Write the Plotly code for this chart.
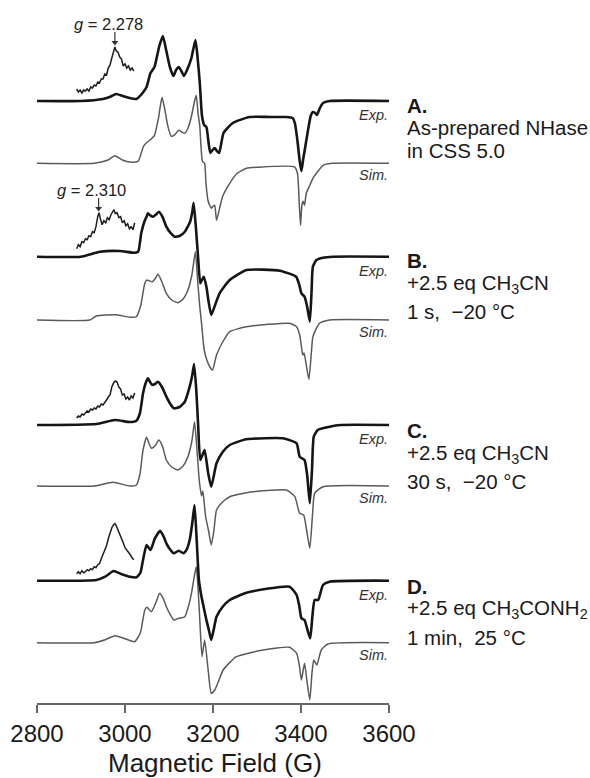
import plotly.graph_objects as go

# ---------------- data (field in G, intensity relative to each trace baseline) -------------
A_exp_field = [2800, 2900, 2950, 2965, 2980, 2995, 3010, 3026, 3040, 3049, 3058, 3067, 3078, 3086, 3094, 3102, 3110, 3116, 3122, 3128, 3134, 3142, 3151, 3160, 3164, 3170, 3175, 3180, 3185, 3190, 3194, 3199, 3204, 3209, 3214, 3224, 3245, 3283, 3330, 3367, 3381, 3386, 3392, 3397, 3401, 3405, 3410, 3416, 3422, 3427, 3432, 3436, 3443, 3450, 3465, 3600]
A_exp_vals = [0, 0, 2, 4, 7, 5, 3, 2, 8, 14, 28, 34, 55, 65, 50, 34, 25, 31, 34, 30, 25, 32, 43, 61, 48, 18, -15, -24, -26, -42, -52, -49, -47, -50, -52, -32, -22, -16, -16, -16, -17, -22, -40, -60, -70, -58, -45, -29, -15, -11, -12, -14, -7, -2, 0, 0]

A_sim_field = [2800, 2930, 2960, 2977, 2995, 3017, 3030, 3042, 3050, 3056, 3067, 3076, 3084, 3090, 3097, 3105, 3114, 3122, 3130, 3136, 3144, 3151, 3158, 3162, 3166, 3170, 3173, 3176, 3181, 3184, 3189, 3196, 3200, 3204, 3208, 3215, 3222, 3238, 3255, 3276, 3300, 3385, 3392, 3396, 3399, 3402, 3405, 3408, 3412, 3419, 3427, 3435, 3450, 3470, 3600]
A_sim_vals = [0, 0, 3, 7.6, 3, 1, 2, 17, 21, 23, 28, 45, 66, 55, 38, 27, 29, 33, 31, 30, 36, 47, 62, 68, 50, 37, 15, 2, 0, -20, -38, -45, -43, -42, -57, -45, -33, -20, -10, -5, -4, -3.5, -10, -40, -62, -42, -38, -42, -30, -23, -15, -10, -2, 0, 0]

B_exp_field = [2800, 2900, 2943, 2988, 3022, 3030, 3037, 3044, 3049, 3052, 3058, 3064, 3070, 3077, 3085, 3094, 3103, 3113, 3125, 3136, 3148, 3153, 3156, 3161, 3166, 3171, 3175, 3179, 3185, 3190, 3196, 3205, 3215, 3238, 3276, 3352, 3389, 3396, 3401, 3408, 3414, 3420, 3424, 3427, 3435, 3450, 3473, 3600]
B_exp_vals = [0, 0, 5, 5.7, 4, 5, 23.7, 35, 40, 43.4, 41, 40, 42, 45, 40, 30, 24, 20, 21, 25, 35, 45, 54, 30, 0, -26.6, -23, -20, -30, -45, -58.3, -48, -36.6, -23.3, -13.3, -14, -20, -28, -36.6, -40, -50, -65, -35, -10, -3.3, -1, 0, 0]

B_sim_field = [2800, 2920, 2935, 2980, 3011, 3026, 3036, 3045, 3050, 3056, 3062, 3068, 3075, 3084, 3094, 3106, 3120, 3132, 3143, 3152, 3160, 3165, 3170, 3174, 3180, 3186, 3193, 3199, 3208, 3222, 3238, 3276, 3374, 3390, 3397, 3401, 3404, 3407, 3412, 3418, 3424, 3427, 3442, 3465, 3600]
B_sim_vals = [0, 0, 4, 5.3, 2.7, 3.3, 15, 36.7, 40, 39, 38.3, 41, 45.7, 38, 26.7, 20, 17.3, 21, 30, 45, 68.3, 40, 13.3, -3.3, -30, -40, -47, -50, -35, -22, -11.7, -6.7, -3.3, -6.7, -15, -26.7, -35, -33, -45, -59.3, -30, -16.7, -3.3, 0, 0]

C_exp_field = [2800, 2935, 2977, 3011, 3026, 3034, 3041, 3047, 3052, 3057, 3062, 3068, 3075, 3084, 3094, 3103, 3111, 3124, 3136, 3147, 3153, 3157, 3162, 3166, 3171, 3176, 3181, 3189, 3196, 3208, 3222, 3238, 3276, 3359, 3390, 3397, 3408, 3414, 3420, 3425, 3429, 3438, 3465, 3490, 3600]
C_exp_vals = [0, 1, 5, 3, 4.3, 12, 31.7, 42, 46.7, 43, 40, 41, 43.3, 38, 28.3, 21, 16.7, 18, 23.3, 38.3, 50, 61, 35, 1.7, -35, -30, -25, -48, -61.7, -38.3, -27, -20, -14.3, -13.3, -18.3, -31.7, -35, -50, -78.3, -45, -11.7, -5, -1.7, 0, 0]

C_sim_field = [2800, 2930, 2973, 3011, 3026, 3034, 3041, 3049, 3055, 3060, 3068, 3077, 3085, 3094, 3106, 3120, 3132, 3143, 3152, 3158, 3163, 3168, 3171, 3174, 3177, 3183, 3190, 3196, 3202, 3208, 3222, 3238, 3276, 3367, 3386, 3397, 3406, 3413, 3420, 3426, 3431, 3450, 3600]
C_sim_vals = [0, 0, 3.7, 0, 1, 12, 36, 48.7, 42, 37.7, 40, 46, 40, 26, 19, 16, 20, 29.3, 45, 64.3, 40, 9.3, -2.3, -10, -5, -30, -45, -59, -45, -24, -16, -10.7, -6.7, -4, -10.7, -27.3, -29, -45, -62.3, -30, -7.3, -0.7, 0]

D_exp_field = [2800, 2935, 2955, 2974, 2990, 3011, 3026, 3035, 3041, 3049, 3058, 3068, 3080, 3088, 3094, 3103, 3111, 3122, 3133, 3140, 3147, 3153, 3158, 3163, 3168, 3173, 3177, 3185, 3191, 3196, 3202, 3208, 3222, 3238, 3276, 3374, 3390, 3396, 3401, 3408, 3414, 3421, 3426, 3431, 3439, 3450, 3465, 3600]
D_exp_vals = [0, 0.7, 4, 9.7, 7, 4, 3.4, 8, 20.7, 35.7, 30.7, 42.4, 50, 44, 37.4, 31, 27.4, 30, 27.4, 31, 40.7, 58, 75.7, 40, 0.7, -14, -22.6, -39.3, -50, -59.3, -48, -36, -26, -19.3, -12, -6, -14.3, -25, -37.6, -39.3, -48, -57.6, -35, -19.3, -19.3, -4.3, -1, 0]

D_sim_field = [2800, 2930, 2955, 2977, 3000, 3022, 3035, 3045, 3050, 3060, 3070, 3079, 3087, 3094, 3103, 3111, 3122, 3136, 3144, 3151, 3157, 3162, 3166, 3170, 3175, 3181, 3189, 3196, 3204, 3213, 3223, 3253, 3314, 3374, 3390, 3396, 3401, 3408, 3414, 3420, 3425, 3429, 3436, 3446, 3461, 3600]
D_sim_vals = [0, 0, 3, 7, 4, 1, 10, 32.7, 35.4, 31, 40, 49.4, 44, 36, 28, 22.7, 24.4, 26, 36, 49.4, 65, 76, 55, 22.7, -14, 2.7, -27.3, -50.6, -47.3, -38, -27.3, -14, -7.3, -4.6, -10.6, -22, -37.3, -20.6, -40, -57.3, -30, -17.3, -22.3, -7.3, -1.3, 0]

# magnified low-field insets (relative to Exp baseline)
A_ins_field = [2890, 2894, 2898, 2902, 2906, 2910, 2914, 2918, 2922, 2926, 2930, 2934, 2938, 2942, 2946, 2950, 2954, 2958, 2962, 2966, 2970, 2974, 2977, 2980, 2984, 2988, 2992, 2996, 3000, 3004, 3008, 3012, 3016, 3020]
A_ins_vals = [12, 9, 11, 8, 11, 10, 12, 10, 14, 13, 16, 15, 19, 18, 22, 22, 27, 26, 33, 36, 43, 48, 54, 50, 49, 44, 42, 35, 37, 33, 35, 31, 33, 30]
B_ins_field = [2890, 2894, 2898, 2902, 2906, 2910, 2914, 2918, 2922, 2926, 2930, 2934, 2938, 2941, 2944, 2948, 2952, 2956, 2960, 2964, 2968, 2972, 2975, 2978, 2982, 2986, 2990, 2994, 2998, 3002, 3006, 3010, 3014, 3018, 3022]
B_ins_vals = [8, 12, 10, 15, 14, 18, 17, 21, 20, 25, 24, 30, 40, 44, 38, 32, 36, 34, 39, 37, 42, 45, 47, 43, 44, 39, 40, 34, 36, 31, 33, 28, 30, 27, 34]
C_ins_field = [2890, 2894, 2898, 2902, 2906, 2910, 2914, 2918, 2922, 2926, 2930, 2934, 2938, 2942, 2946, 2950, 2954, 2958, 2962, 2966, 2970, 2974, 2978, 2982, 2986, 2990, 2994, 2998, 3002, 3006, 3010, 3014, 3018, 3022]
C_ins_vals = [7, 9, 8, 11, 10, 12, 14, 13, 16, 15, 17, 16, 19, 18, 21, 20, 22, 25, 28, 30, 38, 42, 44, 43, 38, 36, 30, 31, 26, 28, 25, 29, 27, 32]
D_ins_field = [2890, 2894, 2898, 2902, 2906, 2910, 2914, 2918, 2922, 2926, 2930, 2934, 2938, 2942, 2946, 2950, 2954, 2958, 2962, 2966, 2970, 2974, 2977, 2980, 2984, 2988, 2992, 2996, 3000, 3004, 3008, 3012, 3016, 3020]
D_ins_vals = [7, 9, 7, 10, 8, 9, 11, 10, 12, 11, 14, 13, 16, 17, 22, 26, 30, 35, 42, 48, 53, 56, 57, 55, 51, 47, 43, 38, 33, 31, 28, 26, 23, 21]

panel_letters = ["A.", "B.", "C.", "D."]
panel_line2 = ["As-prepared NHase", "+2.5 eq CH<sub>3</sub>CN", "+2.5 eq CH<sub>3</sub>CN", "+2.5 eq CH<sub>3</sub>CONH<sub>2</sub>"]
panel_line3 = ["in CSS 5.0", "1 s,&nbsp; \u221220 \u00b0C", "30 s,&nbsp; \u221220 \u00b0C", "1 min,&nbsp; 25 \u00b0C"]
g_labels = ["<i>g</i> = 2.278", "<i>g</i> = 2.310"]
g_fields = [2977, 2940]
x_ticks = [2800, 3000, 3200, 3400, 3600]
x_title = "Magnetic Field (G)"

# ---------------- layout constants (pixels) -----------------
W, H = 590, 778
ML, MR, MT, MB = 37, 201, 0, 75
PH = H - MT - MB  # plot height in px; y data unit == 1 px, up positive

def ydat(px):
    return PH - (px - MT)

exp_base_px = [101, 256.7, 425, 580.7]
sim_base_px = [163.3, 320, 486, 642.7]

exp_sets = [(A_exp_field, A_exp_vals), (B_exp_field, B_exp_vals), (C_exp_field, C_exp_vals), (D_exp_field, D_exp_vals)]
sim_sets = [(A_sim_field, A_sim_vals), (B_sim_field, B_sim_vals), (C_sim_field, C_sim_vals), (D_sim_field, D_sim_vals)]
ins_sets = [(A_ins_field, A_ins_vals), (B_ins_field, B_ins_vals), (C_ins_field, C_ins_vals), (D_ins_field, D_ins_vals)]

FONT = "Liberation Sans, Arial, sans-serif"
fig = go.Figure()

for i in range(4):
    off_e = ydat(exp_base_px[i])
    off_s = ydat(sim_base_px[i])
    fx, fv = sim_sets[i]
    fig.add_trace(go.Scatter(x=fx, y=[off_s + v for v in fv], mode="lines",
                             line=dict(color="#5a5a5a", width=1.5, shape="spline", smoothing=0.5),
                             hoverinfo="skip", showlegend=False))
    fx, fv = exp_sets[i]
    fig.add_trace(go.Scatter(x=fx, y=[off_e + v for v in fv], mode="lines",
                             line=dict(color="#151515", width=2.6, shape="spline", smoothing=0.5),
                             hoverinfo="skip", showlegend=False))
    fx, fv = ins_sets[i]
    fig.add_trace(go.Scatter(x=fx, y=[off_e + v for v in fv], mode="lines",
                             line=dict(color="#1e1e1e", width=1.5),
                             hoverinfo="skip", showlegend=False))

# g-value arrows (shaft + head) drawn as traces
g_tip_px = [45, 211]
g_top_px = [32, 198]
for i in range(2):
    fig.add_trace(go.Scatter(x=[g_fields[i], g_fields[i]], y=[ydat(g_top_px[i]), ydat(g_tip_px[i]) + 3],
                             mode="lines", line=dict(color="#333333", width=1.2),
                             hoverinfo="skip", showlegend=False))
    fig.add_trace(go.Scatter(x=[g_fields[i]], y=[ydat(g_tip_px[i]) + 2.5], mode="markers",
                             marker=dict(symbol="triangle-down", size=6, color="#333333"),
                             hoverinfo="skip", showlegend=False))

def xpaper(px):
    return (px - ML) / (W - ML - MR)

def ypaper(px):
    return (H - MB - px) / PH

ann = []
text_x = xpaper(405)
lab_x = xpaper(390)
letter_y = [105, 260, 430, 586]
line2_y = [128, 284, 454, 609]
line3_y = [150, 311.5, 481.5, 637]
TS = 20.5
for i in range(4):
    ann.append(dict(x=text_x, y=ypaper(letter_y[i]), xref="paper", yref="paper", text="<b>" + panel_letters[i] + "</b>",
                    xanchor="left", yanchor="middle", showarrow=False, font=dict(size=TS, color="#1a1a1a", family=FONT)))
    ann.append(dict(x=text_x, y=ypaper(line2_y[i]), xref="paper", yref="paper", text=panel_line2[i],
                    xanchor="left", yanchor="middle", showarrow=False, font=dict(size=TS, color="#1a1a1a", family=FONT)))
    ann.append(dict(x=text_x, y=ypaper(line3_y[i]), xref="paper", yref="paper", text=panel_line3[i],
                    xanchor="left", yanchor="middle", showarrow=False, font=dict(size=TS, color="#1a1a1a", family=FONT)))
    ann.append(dict(x=lab_x, y=ypaper(exp_base_px[i] + 14), xref="paper", yref="paper", text="<i>Exp.</i>",
                    xanchor="right", yanchor="middle", showarrow=False, font=dict(size=14.5, color="#333333", family=FONT)))
    ann.append(dict(x=lab_x, y=ypaper(sim_base_px[i] + 12), xref="paper", yref="paper", text="<i>Sim.</i>",
                    xanchor="right", yanchor="middle", showarrow=False, font=dict(size=14.5, color="#333333", family=FONT)))

g_label_px = [(108, 24), (91.7, 190)]
for i in range(2):
    ann.append(dict(x=xpaper(g_label_px[i][0]), y=ypaper(g_label_px[i][1]), xref="paper", yref="paper",
                    text=g_labels[i], showarrow=False, xanchor="center", yanchor="middle",
                    font=dict(size=16.5, color="#222222", family=FONT)))

ann.append(dict(x=xpaper(215), y=ypaper(763), xref="paper", yref="paper", text=x_title, showarrow=False,
                xanchor="center", yanchor="middle", font=dict(size=26, color="#1a1a1a", family=FONT)))

fig.update_layout(
    width=W, height=H, margin=dict(l=ML, r=MR, t=MT, b=MB),
    paper_bgcolor="white", plot_bgcolor="white",
    annotations=ann,
    xaxis=dict(range=[2800, 3600], tickvals=x_ticks, ticktext=[str(t) for t in x_ticks],
               showgrid=False, zeroline=False, showline=True, linecolor="#666666", linewidth=2,
               ticks="outside", ticklen=8, tickwidth=2, tickcolor="#666666",
               tickfont=dict(size=24, color="#1a1a1a", family=FONT), ticklabelstandoff=0),
    yaxis=dict(range=[0, PH], visible=False, showgrid=False, zeroline=False),
)

fig.write_html("out.html", config={"displayModeBar": False},
               post_script="document.body.style.margin='0';document.body.style.overflow='hidden';")
